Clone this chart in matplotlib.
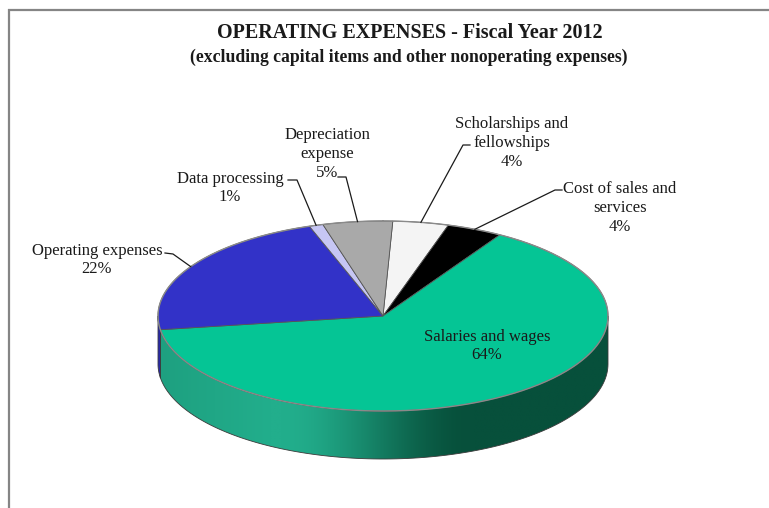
import numpy as np
import matplotlib.pyplot as plt
from matplotlib.patches import Polygon
from matplotlib.colors import to_rgb

plt.rcParams['font.family'] = ['Liberation Serif', 'DejaVu Serif']

# data (percent of total operating expenses)
categories = ['Scholarships and\nfellowships', 'Cost of sales and\nservices', 'Salaries and wages',
              'Operating expenses', 'Data processing', 'Depreciation\nexpense']
values = [4, 4, 64, 22, 1, 5]
colors = ['#f4f4f4', '#000000', '#05c595', '#3232c8', '#c6c6f4', '#a9a9a9']
side_colors = [('#e0e0e0', '#909090'), ('#000000', '#000000'), ('#22ae8c', '#07503b'),
               ('#2c2cb8', '#1c1c90'), ('#b0b0e0', '#8080b0'), ('#989898', '#606060')]

# label layout (pixels): text centre, leader points near the text
label_pos = {
    'Scholarships and\nfellowships': (512, 143, [(470, 145), (463, 145)]),
    'Cost of sales and\nservices': (620, 208, [(562, 190), (555, 190)]),
    'Salaries and wages': (487, 346, None),
    'Operating expenses': (97, 260, [(165, 253), (173, 254)]),
    'Data processing': (230, 188, [(288, 180), (297, 180)]),
    'Depreciation\nexpense': (327, 154, [(338, 177), (346, 177)]),
}

cx, cy, R, r, depth = 383, 316, 225, 95, 48
start = 2.5


def pt(theta, dy=0):
    t = np.radians(theta)
    return cx + R * np.sin(t), cy - r * np.cos(t) + dy


def shade(xm):
    # 0 = light, 1 = dark, by horizontal position on the rim (-1 left .. 1 right)
    tt = np.clip((xm + 0.45) / 0.85, 0, 1)
    tt = tt * tt * (3 - 2 * tt)
    return np.where(xm < -0.5, (-0.5 - xm) * 0.3, tt)


fig = plt.figure(figsize=(7.69, 5.08), dpi=100)
ax = fig.add_axes([0, 0, 1, 1])
ax.set_xlim(0, 769)
ax.set_ylim(508, 0)
ax.axis('off')

# frame lines
ax.plot([8, 769], [9.5, 9.5], color='#858585', lw=1.6, solid_capstyle='butt')
ax.plot([8.5, 8.5], [9, 508], color='#858585', lw=1.6, solid_capstyle='butt')

total = float(sum(values))
bounds = [start]
for v in values:
    bounds.append(bounds[-1] + v / total * 360)

# side walls (front half only, 90..270 deg) with a horizontal gradient
xg = np.linspace(cx - R, cx + R, 400)
for i, v in enumerate(values):
    a = bounds[i] % 360
    b = a + (bounds[i + 1] - bounds[i])
    for off in (0, 360):
        lo, hi = max(a, 90 + off), min(b, 270 + off)
        if lo >= hi:
            continue
        arc = np.linspace(lo, hi, 120)
        tx, ty = pt(arc)
        bx, by = pt(arc[::-1], depth)
        verts = list(zip(tx, ty)) + list(zip(bx, by))
        patch = Polygon(verts, closed=True, fc='none', ec='#3a3a3a', lw=0.6, zorder=2)
        ax.add_patch(patch)
        light, dark = np.array(to_rgb(side_colors[i][0])), np.array(to_rgb(side_colors[i][1]))
        t = shade((xg - cx) / R)[:, None]
        img = (light * (1 - t) + dark * t)[None, :, :]
        im = ax.imshow(img, extent=(cx - R, cx + R, cy + r + depth + 2, cy - 2), aspect='auto',
                       interpolation='bilinear', zorder=1)
        im.set_clip_path(patch)

ax.set_xlim(0, 769)
ax.set_ylim(508, 0)

# top surface
for i, v in enumerate(values):
    arc = np.linspace(bounds[i], bounds[i + 1], 80)
    xs, ys = pt(arc)
    verts = [(cx, cy)] + list(zip(xs, ys))
    ax.add_patch(Polygon(verts, closed=True, fc=colors[i], ec='#555555', lw=0.6, zorder=3))

arc = np.linspace(0, 360, 400)
xs, ys = pt(arc)
ax.plot(xs, ys, color='#8a8a8a', lw=1.0, zorder=4)

# labels and leader lines
for i, cat in enumerate(categories):
    tx, ty, lead = label_pos[cat]
    ax.text(tx, ty, '%s\n%d%%' % (cat, values[i]), ha='center', va='center',
            fontsize=12, linespacing=1.22, color='#1a1a1a', zorder=5)
    if lead:
        mid = (bounds[i] + bounds[i + 1]) / 2
        ex, ey = pt(mid)
        xs = [p[0] for p in lead] + [ex]
        ys = [p[1] for p in lead] + [ey]
        ax.plot(xs, ys, color='#1a1a1a', lw=0.9, zorder=5)

ax.text(410, 33, 'OPERATING EXPENSES - Fiscal Year 2012', ha='center', va='center',
        fontsize=14.5, fontweight='bold', color='#1a1a1a')
ax.text(409, 57, '(excluding capital items and other nonoperating expenses)', ha='center',
        va='center', fontsize=12.7, fontweight='bold', color='#1a1a1a')

fig.savefig('out.png', dpi=100)
